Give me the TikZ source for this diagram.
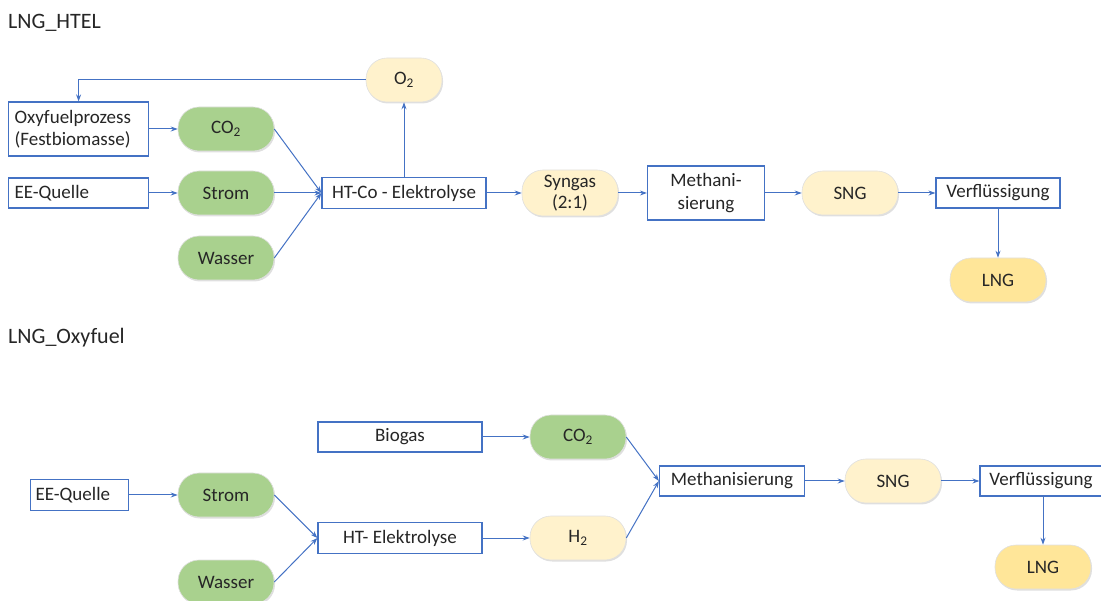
\documentclass[tikz,border=0pt]{standalone}
\usepackage{fontspec}
\setmainfont{Carlito}
\usetikzlibrary{arrows.meta,shadows}
\definecolor{lblue}{HTML}{4472C4}
\definecolor{pgreen}{HTML}{A9D18E}
\definecolor{pyellow}{HTML}{FFF2CC}
\definecolor{pgold}{HTML}{FFE699}
\tikzset{
  procbox/.style={draw=lblue, line width=1.2pt, fill=white, inner sep=2pt, align=center, text=black!85},
  pill/.style={rounded corners=21pt, draw=black!12, line width=0.6pt, inner sep=2pt, align=center,
    minimum width=96pt, minimum height=44pt, text=black!85,
    drop shadow={opacity=0.25, shadow xshift=1pt, shadow yshift=-1.5pt}},
  gpill/.style={pill, fill=pgreen},
  ypill/.style={pill, fill=pyellow},
  opill/.style={pill, fill=pgold},
  flow/.style={draw=lblue, line width=1pt, -{Stealth[length=7pt,width=5pt]}},
  title/.style={anchor=west, inner sep=0pt, text=black!85, font=\fontsize{22}{26}\selectfont}
}
\begin{document}
\begin{tikzpicture}[x=1pt,y=-1pt,font=\fontsize{19}{22.5}\selectfont]
\useasboundingbox (0,0) rectangle (1101,601);
% ---------- LNG_HTEL ----------
\node[title] (t1) at (8,23) {LNG\_HTEL};
\node[procbox, minimum width=140pt, minimum height=54pt, anchor=west, text width=128pt, align=left] (oxy) at (8,129) {Oxyfuelprozess\\(Festbiomasse)};
\node[procbox, minimum width=140pt, minimum height=30pt, anchor=west, text width=128pt, align=left] (ee1) at (8,193) {EE-Quelle};
\node[gpill] (co1) at (226,129) {CO\textsubscript{2}};
\node[gpill] (st1) at (226,193) {Strom};
\node[gpill] (wa1) at (226,258) {Wasser};
\node[procbox, minimum width=164pt, minimum height=31pt] (htco) at (404,193) {HT-Co - Elektrolyse};
\node[ypill, minimum width=76pt] (o2) at (404,80) {O\textsubscript{2}};
\node[ypill, minimum height=46pt] (syn) at (570,193) {Syngas\\[-1pt](2:1)};
\node[procbox, minimum width=117pt, minimum height=54pt] (meth1) at (706,193) {Methani-\\sierung};
\node[ypill] (sng1) at (850,193) {SNG};
\node[procbox, minimum width=124pt, minimum height=30pt] (vf1) at (998,193) {Verflüssigung};
\node[opill] (lng1) at (998,280) {LNG};
\draw[flow] (oxy.east) -- (co1.west);
\draw[flow] (ee1.east) -- (st1.west);
\draw[flow] (co1.east) -- (htco.west);
\draw[flow] (st1.east) -- (htco.west);
\draw[flow] (wa1.east) -- (htco.west);
\draw[flow] (htco.north) -- (o2.south);
\draw[flow] (o2.west) -| (oxy.north);
\draw[flow] (htco.east) -- (syn.west);
\draw[flow] (syn.east) -- (meth1.west);
\draw[flow] (meth1.east) -- (sng1.west);
\draw[flow] (sng1.east) -- (vf1.west);
\draw[flow] (vf1.south) -- (lng1.north);
% ---------- LNG_Oxyfuel ----------
\node[title] (t2) at (8,338) {LNG\_Oxyfuel};
\node[procbox, minimum width=164pt, minimum height=30pt] (bio) at (400,437) {Biogas};
\node[gpill] (co2) at (578,437) {CO\textsubscript{2}};
\node[procbox, minimum width=98pt, minimum height=31pt, anchor=west, text width=88pt, align=left] (ee2) at (30,495) {EE-Quelle};
\node[gpill] (st2) at (226,495) {Strom};
\node[gpill] (wa2) at (226,582) {Wasser};
\node[procbox, minimum width=164pt, minimum height=31pt] (ht2) at (400,538) {HT- Elektrolyse};
\node[ypill] (h2) at (578,538) {H\textsubscript{2}};
\node[procbox, minimum width=145pt, minimum height=30pt] (meth2) at (732,481) {Methanisierung};
\node[ypill] (sng2) at (893,481) {SNG};
\node[procbox, minimum width=122pt, minimum height=30pt] (vf2) at (1041,481) {Verflüssigung};
\node[opill] (lng2) at (1043,567) {LNG};
\draw[flow] (bio.east) -- (co2.west);
\draw[flow] (ee2.east) -- (st2.west);
\draw[flow] (st2.east) -- (ht2.west);
\draw[flow] (wa2.east) -- (ht2.west);
\draw[flow] (ht2.east) -- (h2.west);
\draw[flow] (co2.east) -- (meth2.west);
\draw[flow] (h2.east) -- (meth2.west);
\draw[flow] (meth2.east) -- (sng2.west);
\draw[flow] (sng2.east) -- (vf2.west);
\draw[flow] (vf2.south -| lng2.north) -- (lng2.north);
\end{tikzpicture}
\end{document}
